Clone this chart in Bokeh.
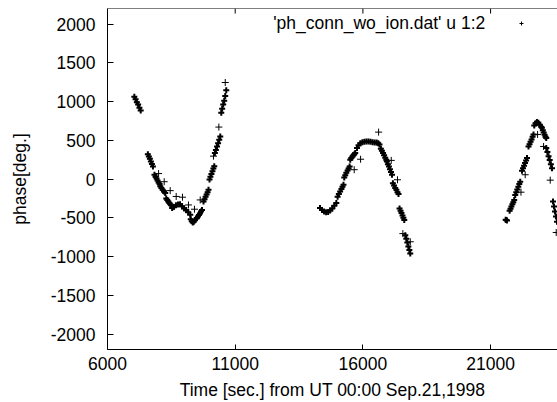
from bokeh.plotting import figure
from bokeh.models import FixedTicker, Span, Label, Legend, LegendItem, Range1d
from bokeh.embed import file_html
from bokeh.resources import INLINE

# ---- data (time [s], phase [deg]) ----
# densely sampled stretches
arc1_t = [7050, 7100, 7150, 7200, 7250, 7300,
          7580, 7620, 7660, 7700, 7740, 7780,
          7840, 7880, 7920, 7960, 8000, 8040,
          8065, 8110, 8160, 8210, 8260,
          8300, 8340, 8380, 8420, 8460, 8495,
          8530, 8600, 8680, 8760, 8840, 8920, 9000, 9080, 9160, 9240,
          9260, 9300, 9340, 9380, 9420,
          9500, 9540, 9580, 9620, 9660, 9700,
          9760, 9800, 9840, 9880, 9920, 9955,
          9995, 10030, 10070, 10110, 10145, 10180,
          10205, 10245, 10290, 10330, 10375, 10415,
          10455, 10490, 10530, 10570, 10610, 10650]
arc1_v = [1060, 1030, 990, 960, 920, 885,
          320, 290, 260, 225, 195, 160,
          55, 30, 5, -20, -45, -65,
          -95, -115, -140, -160, -180,
          -250, -270, -290, -310, -325, -340,
          -375, -360, -340, -330, -325, -350, -380, -400, -430, -460,
          -520, -545, -560, -550, -530,
          -505, -485, -465, -445, -420, -400,
          -290, -260, -230, -200, -170, -140,
          -5, 30, 65, 100, 135, 165,
          335, 375, 420, 460, 505, 550,
          855, 905, 960, 1010, 1070, 1145]

arc2_t = [14320, 14400, 14480, 14560, 14640, 14720, 14800, 14880, 14960,
          15010, 15060, 15110, 15160, 15200, 15240,
          15270, 15310, 15350, 15400, 15440, 15480,
          15505, 15545, 15590, 15630, 15665, 15700,
          15770, 15830, 15900, 15980, 16060, 16140, 16220, 16300, 16380,
          16460, 16540, 16600, 16650,
          16705, 16745, 16790, 16830, 16875, 16915,
          16940, 16980, 17020, 17060, 17100, 17140,
          17175, 17220, 17265, 17310, 17355, 17395,
          17435, 17475, 17510, 17550, 17585, 17620,
          17660, 17700, 17740, 17780, 17820, 17855]
arc2_v = [-375, -400, -420, -430, -425, -405, -380, -345, -310,
          -230, -195, -160, -130, -100, -75,
          20, 50, 80, 110, 135, 160,
          250, 270, 290, 305, 320, 335,
          400, 435, 460, 475, 480, 485, 485, 480, 475,
          470, 470, 460, 445,
          390, 365, 335, 305, 275, 250,
          225, 190, 160, 125, 90, 55,
          -55, -85, -115, -140, -170, -195,
          -380, -410, -440, -470, -500, -530,
          -725, -770, -820, -870, -915, -960]

arc3_t = [21590, 21615, 21640,
          21745, 21780, 21815, 21855, 21890, 21925,
          21965, 22005, 22045, 22085, 22125, 22160,
          22230, 22270, 22310, 22350, 22390, 22425,
          22485, 22525, 22565, 22605, 22645, 22680,
          22710, 22760, 22815, 22870, 22930, 22980, 23010,
          23045, 23080, 23115, 23150, 23180,
          23180, 23225, 23270, 23315, 23360, 23405,
          23445, 23485, 23520, 23560, 23600]
arc3_v = [-525, -530, -535,
          -410, -385, -355, -325, -300, -270,
          -205, -170, -135, -100, -65, -35,
          105, 140, 170, 205, 240, 270,
          420, 450, 480, 510, 545, 575,
          690, 720, 735, 725, 700, 675, 660,
          630, 600, 570, 545, 530,
          400, 350, 295, 245, 190, 140,
          -290, -355, -420, -485, -550]

# isolated samples
lone_t = [8000, 8220, 8455, 8690, 8935, 9170, 9405, 9630, 10150, 10360, 10610,
          15660, 15910, 16615, 17110, 17355, 17565, 17855,
          22190, 22355, 22840, 23075, 23335, 23570]
lone_v = [70, -35, -150, -225, -235, -335, -390, -270, 295, 670, 1245,
          120, 255, 605, 240, -10, -705, -810,
          -170, 55, 575, 420, -15, -690]

x_ticks = [6000, 11000, 16000, 21000]
y_ticks = [-2000, -1500, -1000, -500, 0, 500, 1000, 1500, 2000]
legend_text = "'ph_conn_wo_ion.dat' u 1:2"
x_label = "Time [sec.] from UT 00:00 Sep.21,1998"
y_label = "phase[deg.]"

dense_t = arc1_t + arc2_t + arc3_t
dense_v = arc1_v + arc2_v + arc3_v

FONT = "Liberation Sans"
FS = "17.5px"

p = figure(width=557, height=402, output_backend="svg", toolbar_location=None,
           x_range=Range1d(6000, 23620), y_range=Range1d(-2200, 2200),
           min_border_left=107, min_border_right=0, min_border_top=8, min_border_bottom=0)
p.outline_line_color = None
p.background_fill_color = "white"
p.border_fill_color = "white"
p.xgrid.visible = False
p.ygrid.visible = False

p.scatter(dense_t, dense_v, marker="cross", size=6, line_width=2, color="black")
r = p.scatter(lone_t, lone_v, marker="cross", size=7, line_width=1, color="black")

for ax in (p.xaxis[0], p.yaxis[0]):
    ax.major_tick_out = 0
    ax.minor_tick_in = 0
    ax.minor_tick_out = 0
    ax.axis_line_color = "black"
    ax.axis_line_width = 1
    ax.major_tick_line_color = "black"
    ax.major_label_text_font = FONT
    ax.major_label_text_font_size = FS
    ax.major_label_text_color = "black"
    ax.axis_label_text_font = FONT
    ax.axis_label_text_font_size = FS
    ax.axis_label_text_font_style = "normal"
    ax.axis_label_text_color = "black"

p.xaxis.ticker = FixedTicker(ticks=x_ticks)
p.yaxis.ticker = FixedTicker(ticks=y_ticks)
p.xaxis.major_label_overrides = {t: str(t) for t in x_ticks}
p.yaxis.major_label_overrides = {t: str(t) for t in y_ticks}
p.xaxis.major_tick_in = 5
p.yaxis.major_tick_in = 6
p.xaxis.major_label_standoff = 7
p.yaxis.major_label_standoff = 12
p.xaxis.axis_label = x_label
p.yaxis.axis_label = y_label
p.xaxis.axis_label_standoff = 7
p.yaxis.axis_label_standoff = 18

# top border and top ticks (gnuplot mirror)
p.add_layout(Span(location=2200, dimension="width", line_color="black", line_width=1))
p.segment(x0=x_ticks, x1=x_ticks, y0=[2200] * len(x_ticks), y1=[2135] * len(x_ticks),
          line_color="black", line_width=1)

# key
p.add_layout(Label(x=20790, y=2010, text=legend_text, text_align="right",
                   text_baseline="middle", text_font=FONT, text_font_size=FS,
                   text_color="black"))
leg = Legend(items=[LegendItem(label=" ", renderers=[r])], location=(409, 321),
             border_line_color=None, background_fill_alpha=0, margin=0, padding=0,
             glyph_width=10, glyph_height=10, label_standoff=0, label_width=0,
             label_height=0, spacing=0, label_text_font_size="1px")
p.add_layout(leg)

open("out.html", "w").write(file_html(p, INLINE))
